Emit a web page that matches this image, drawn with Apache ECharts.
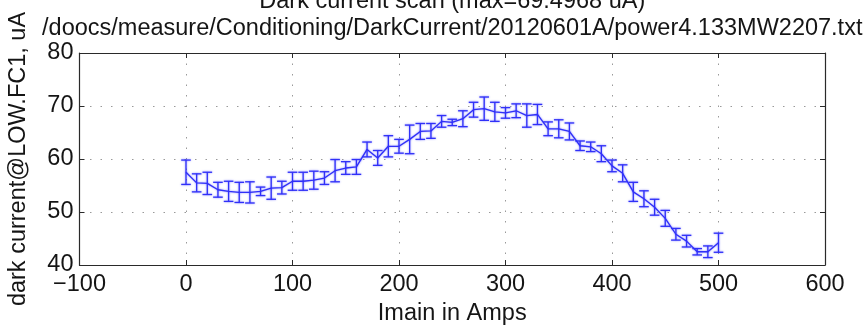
<!DOCTYPE html>
<html>
<head>
<meta charset="utf-8">
<title>Dark current scan</title>
<script src="https://cdn.jsdelivr.net/npm/echarts@6/dist/echarts.min.js"></script>
<style>
  html, body { margin: 0; padding: 0; background: #fff; }
  #chart { width: 864px; height: 326px; }
</style>
</head>
<body>
<div id="chart"></div>
<script>
// Magnet current settings (A)
var imain = [0, 10, 20, 30, 40, 50, 60, 70, 80, 90,
  100, 110, 120, 130, 140, 150, 160, 170, 180, 190,
  200, 210, 220, 230, 240, 250, 260, 270, 280, 290,
  300, 310, 320, 330, 340, 350, 360, 370, 380, 390,
  400, 410, 420, 430, 440, 450, 460, 470, 480, 490, 500];

// Mean dark current at LOW.FC1 (uA)
var darkCurrent = [57.5, 55.5, 55.4, 54.2, 53.9, 53.7, 53.7, 53.9, 54.5, 54.6,
  55.8, 55.8, 56.0, 56.4, 57.8, 58.3, 58.5, 61.8, 60.2, 62.4,
  62.4, 63.7, 65.2, 65.3, 67.1, 66.9, 67.6, 69.3, 69.4968, 68.9,
  68.7, 69.1, 68.2, 68.4, 65.7, 65.7, 65.2, 62.5, 62.3, 61.0,
  58.7, 57.3, 53.8, 52.5, 50.9, 48.8, 45.8, 44.5, 42.5, 42.5, 44.2];

// Standard deviation of each reading (uA)
var spread = [2.3, 1.7, 2.1, 1.4, 1.9, 1.9, 2.0, 0.8, 2.1, 1.2,
  1.7, 1.7, 1.7, 1.2, 2.1, 1.2, 1.4, 1.4, 1.4, 2.0,
  1.3, 2.7, 1.5, 1.4, 1.1, 0.6, 1.5, 1.4, 2.2, 1.8,
  1.0, 1.3, 2.2, 1.9, 1.3, 1.7, 1.6, 0.9, 0.9, 1.5,
  1.1, 1.6, 1.8, 1.5, 1.5, 1.5, 1.1, 1.1, 0.6, 1.1, 1.8];

var xTicks = [-100, 0, 100, 200, 300, 400, 500, 600];
var yTicks = [40, 50, 60, 70, 80];

var titleLines = [
  'Dark current scan (max=69.4968 uA)',
  '/doocs/measure/Conditioning/DarkCurrent/20120601A/power4.133MW2207.txt'
];

var FONT = '"Liberation Sans", Arial, Helvetica, sans-serif';
var FS = 23.5;
var BLUE = '#3030f8';
var FRAME = '#2a2a2a';
var TEXT = '#151515';

var GRID = { left: 79.5, right: 39, top: 53, bottom: 61 };
var titleX = (GRID.left + (864 - GRID.right)) / 2;

var linePoints = imain.map(function (x, i) { return [x, darkCurrent[i]]; });
var barPoints = imain.map(function (x, i) {
  return [x, darkCurrent[i] - spread[i], darkCurrent[i] + spread[i]];
});

var markStyle = {
  stroke: BLUE, lineWidth: 1.3, fill: null,
  shadowBlur: 2, shadowColor: 'rgba(50,50,255,0.6)'
};

function renderErrorBar(params, api) {
  var x = api.value(0);
  var lo = api.coord([x, api.value(1)]);
  var hi = api.coord([x, api.value(2)]);
  var cap = 4.8;
  return {
    type: 'group',
    children: [
      { type: 'line', shape: { x1: lo[0], y1: lo[1], x2: hi[0], y2: hi[1] }, style: markStyle },
      { type: 'line', shape: { x1: lo[0] - cap, y1: lo[1], x2: lo[0] + cap, y2: lo[1] }, style: markStyle },
      { type: 'line', shape: { x1: hi[0] - cap, y1: hi[1], x2: hi[0] + cap, y2: hi[1] }, style: markStyle }
    ]
  };
}

var xMin = xTicks[0], xMax = xTicks[xTicks.length - 1];
var yMin = yTicks[0], yMax = yTicks[yTicks.length - 1];

function baseX(extra) {
  return Object.assign({
    type: 'value', min: xMin, max: xMax, interval: 100,
    axisLine: { show: true, onZero: false, lineStyle: { color: FRAME, width: 1.2 } },
    axisTick: { show: true, inside: true, length: 5, lineStyle: { color: FRAME } },
    splitLine: { show: false },
    axisLabel: { show: false }
  }, extra);
}
function baseY(extra) {
  return Object.assign({
    type: 'value', min: yMin, max: yMax, interval: 10,
    axisLine: { show: true, onZero: false, lineStyle: { color: FRAME, width: 1.2 } },
    axisTick: { show: true, inside: true, length: 5, lineStyle: { color: FRAME } },
    splitLine: { show: false },
    axisLabel: { show: false }
  }, extra);
}

var gridDots = { show: true, lineStyle: { color: '#9a9a9a', width: 1, type: [1.5, 9] } };

var chart = echarts.init(document.getElementById('chart'), null, { renderer: 'canvas' });

chart.setOption({
  animation: false,
  backgroundColor: '#fff',
  grid: {
    left: GRID.left, right: GRID.right, top: GRID.top, bottom: GRID.bottom,
    containLabel: false, outerBoundsMode: 'none'
  },
  graphic: [
    { type: 'text', x: titleX, y: -10,
      style: { text: titleLines[0], font: FS + 'px ' + FONT, fill: TEXT, align: 'center', verticalAlign: 'top' } },
    { type: 'text', x: titleX, y: 17,
      style: { text: titleLines[1], font: FS + 'px ' + FONT, fill: TEXT, align: 'center', verticalAlign: 'top' } }
  ],
  xAxis: [
    baseX({
      position: 'bottom',
      name: 'Imain in Amps', nameLocation: 'middle', nameGap: 34,
      nameTextStyle: { fontFamily: FONT, fontSize: FS, color: TEXT },
      axisLabel: {
        show: true, margin: 8, fontFamily: FONT, fontSize: FS, color: TEXT,
        formatter: function (v) { return v < 0 ? '\u2212' + Math.abs(v) : String(v); }
      },
      splitLine: gridDots
    }),
    baseX({ position: 'top' })
  ],
  yAxis: [
    baseY({
      position: 'left',
      name: 'dark current@LOW.FC1, uA', nameLocation: 'middle', nameGap: 49,
      nameTextStyle: { fontFamily: FONT, fontSize: FS, color: TEXT },
      axisLabel: { show: true, margin: 6, fontFamily: FONT, fontSize: FS, color: TEXT },
      splitLine: gridDots
    }),
    baseY({ position: 'right' })
  ],
  series: [
    {
      type: 'line', name: 'dark current', data: linePoints,
      xAxisIndex: 0, yAxisIndex: 0,
      showSymbol: false, symbol: 'none',
      lineStyle: { color: BLUE, width: 1.3, shadowBlur: 2, shadowColor: 'rgba(50,50,255,0.6)' },
      z: 3
    },
    {
      type: 'custom', name: 'spread', data: barPoints,
      xAxisIndex: 0, yAxisIndex: 0,
      renderItem: renderErrorBar,
      encode: { x: 0, y: [1, 2] }, z: 4
    }
  ]
});
</script>
</body>
</html>
